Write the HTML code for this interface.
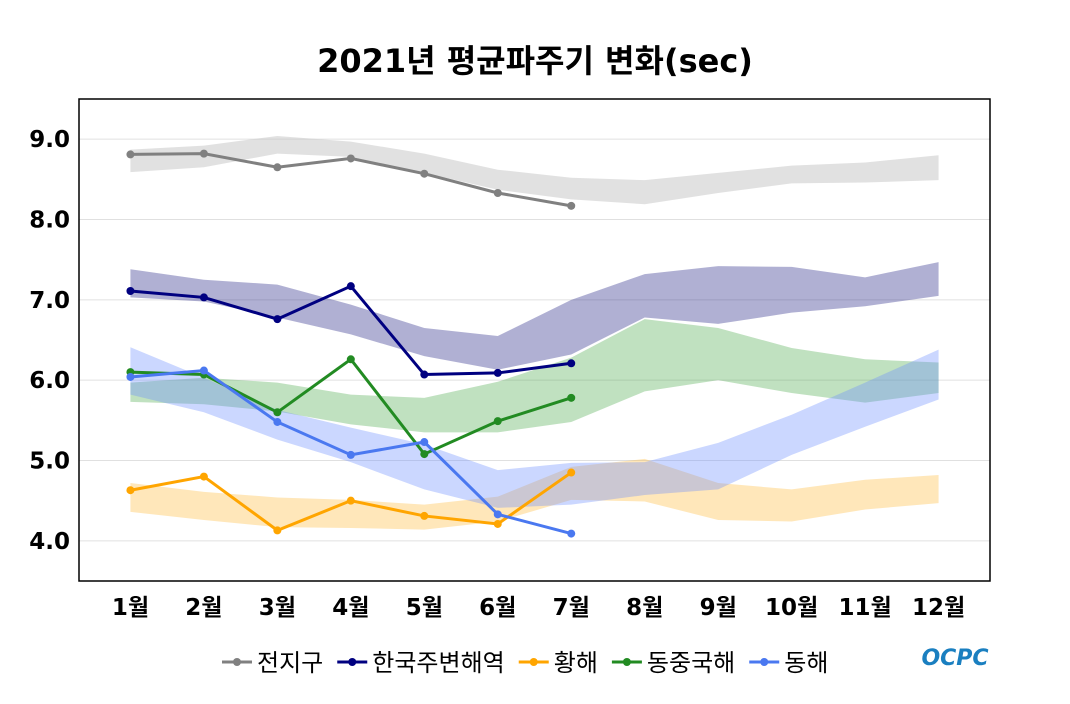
<!DOCTYPE html>
<html><head><meta charset="utf-8"><style>
body{margin:0;background:#fff;width:1070px;height:700px;overflow:hidden;font-family:"DejaVu Sans","Noto Sans CJK KR",sans-serif}
</style></head><body>
<svg id="c" width="1070" height="700" style="font-family:'DejaVu Sans','Noto Sans CJK KR',sans-serif">
<text x="535" y="72" text-anchor="middle" font-size="32" font-weight="bold">2021년 평균파주기 변화(sec)</text>
<g id="grid"></g><g id="bands"></g><g id="lines"></g><g id="axes"></g>
<rect x="79" y="99" width="911" height="482" fill="none" stroke="#000" stroke-width="1.5"/>
<g id="legend"></g>
<text x="955" y="665" text-anchor="middle" font-size="22" font-weight="bold" fill="#1a7fc0" font-style="italic">OCPC</text>
</svg>
<script>
const months=["1월","2월","3월","4월","5월","6월","7월","8월","9월","10월","11월","12월"];
const yTicks=[4,5,6,7,8,9];
const seriesNames=["전지구","한국주변해역","황해","동중국해","동해"];
const colors=["#808080","#000080","#ffa500","#228b22","#4a78f0"];
const bandColors=["#c8c8c8","#3a3a90","#ffb93a","#4aa84a","#6a8cff"];
const global2021=[8.81,8.82,8.65,8.76,8.57,8.33,8.17];
const korea2021=[7.11,7.03,6.76,7.17,6.07,6.09,6.21];
const yellow2021=[4.63,4.80,4.13,4.50,4.31,4.21,4.85];
const ecs2021=[6.10,6.07,5.60,6.26,5.08,5.49,5.78];
const east2021=[6.04,6.12,5.48,5.07,5.23,4.33,4.09];
const globalHi=[8.87,8.92,9.04,8.97,8.82,8.62,8.52,8.49,8.58,8.67,8.71,8.80];
const globalLo=[8.59,8.65,8.82,8.78,8.58,8.37,8.25,8.19,8.33,8.45,8.46,8.49];
const koreaHi=[7.38,7.25,7.19,6.94,6.65,6.55,7.00,7.32,7.42,7.41,7.28,7.47];
const koreaLo=[7.03,6.98,6.78,6.57,6.30,6.13,6.32,6.78,6.70,6.84,6.92,7.05];
const yellowHi=[4.72,4.61,4.54,4.51,4.45,4.55,4.92,5.02,4.72,4.64,4.76,4.82];
const yellowLo=[4.36,4.26,4.17,4.16,4.14,4.24,4.51,4.49,4.26,4.24,4.39,4.47];
const ecsHi=[5.97,6.03,5.97,5.82,5.78,5.98,6.28,6.76,6.65,6.40,6.26,6.22];
const ecsLo=[5.73,5.70,5.61,5.45,5.35,5.35,5.48,5.86,6.00,5.84,5.72,5.84];
const eastHi=[6.41,6.03,5.63,5.41,5.20,4.88,4.97,4.98,5.22,5.57,5.97,6.38];
const eastLo=[5.82,5.60,5.26,4.98,4.64,4.41,4.45,4.57,4.64,5.07,5.42,5.76];
const lines=[global2021,korea2021,yellow2021,ecs2021,east2021];
const his=[globalHi,koreaHi,yellowHi,ecsHi,eastHi];
const los=[globalLo,koreaLo,yellowLo,ecsLo,eastLo];
const bandOp=[0.55,0.4,0.35,0.35,0.35];
const X=i=>79+(i+1-0.3)/(12.4)*911;
const Y=v=>99+(9.5-v)/6*482;
const NS="http://www.w3.org/2000/svg";
function mk(t,p,a){const e=document.createElementNS(NS,t);for(const k in a)e.setAttribute(k,a[k]);p.appendChild(e);return e;}
const g=document.getElementById('grid'),ax=document.getElementById('axes'),bd=document.getElementById('bands'),ln=document.getElementById('lines'),lg=document.getElementById('legend');
yTicks.forEach(v=>{
 const l=mk('line',g,{x1:79,x2:990,y1:Y(v),y2:Y(v),stroke:'#e0e0e0','stroke-width':1});
 
 
 const t=mk('text',ax,{x:70,y:Y(v)+8,'text-anchor':'end','font-size':23,'font-weight':'bold'});
 t.textContent=v.toFixed(1);
 
 
});
months.forEach((m,i)=>{
 const t=mk('text',ax,{x:X(i),y:615,'text-anchor':'middle','font-size':23,'font-weight':'bold'});
 t.textContent=m;
 
 
});
his.forEach((hi,s)=>{
 let d='M'+hi.map((v,i)=>X(i)+','+Y(v)).join('L');
 for(let i=los[s].length-1;i>=0;i--)d+='L'+X(i)+','+Y(los[s][i]);
 const p=mk('path',bd,{d:d+'Z',fill:bandColors[s],'fill-opacity':bandOp[s]});
 
 
});
lines.forEach((arr,s)=>{
 const p=mk('polyline',ln,{points:arr.map((v,i)=>X(i)+','+Y(v)).join(' '),fill:'none',stroke:colors[s],'stroke-width':3});
 
 
 arr.forEach((v,i)=>{
  const c=mk('circle',ln,{cx:X(i),cy:Y(v),r:4,fill:colors[s]});
  
  
 });
});
let lx=222;
seriesNames.forEach((n,s)=>{
 mk('line',lg,{x1:lx,x2:lx+30,y1:662,y2:662,stroke:colors[s],'stroke-width':3});
 mk('circle',lg,{cx:lx+15,cy:662,r:4,fill:colors[s]});
 const t=mk('text',lg,{x:lx+35,y:671,'font-size':24});
 t.textContent=n;
 
 
 lx+=35+t.getComputedTextLength()+14;
});
</script>
</body></html>
